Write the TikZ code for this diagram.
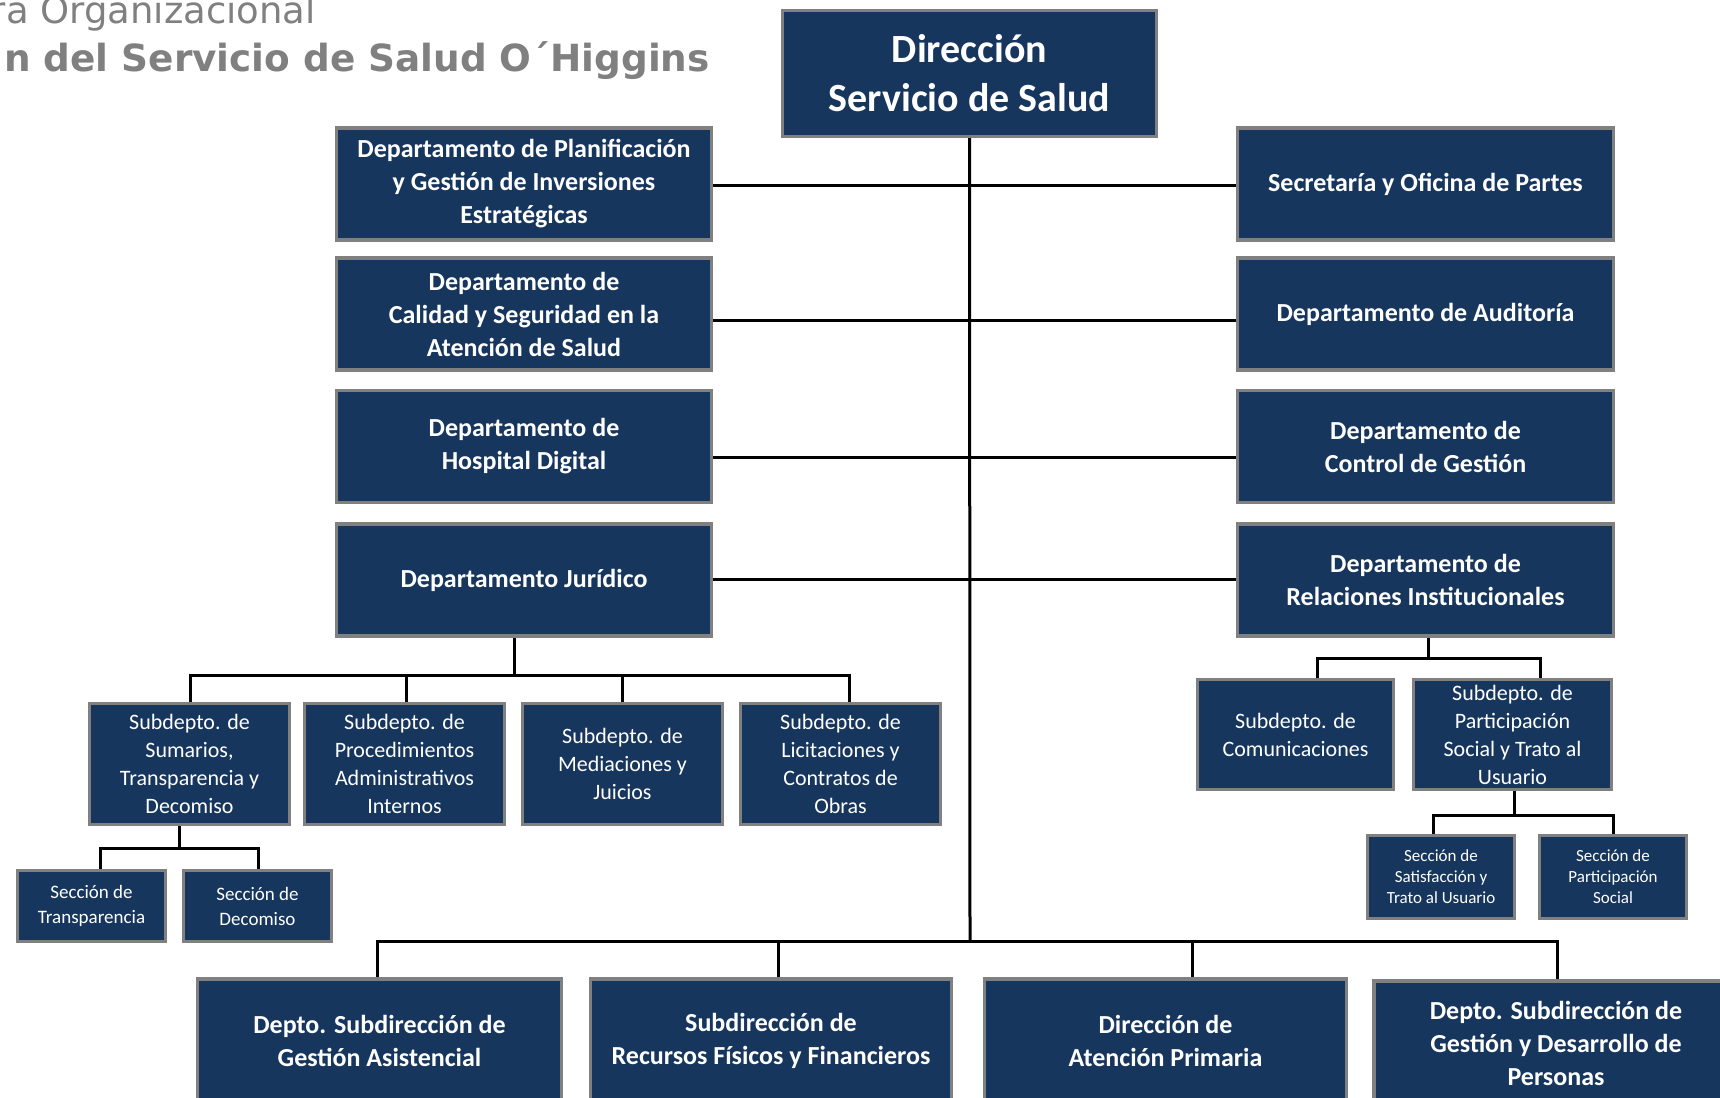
\documentclass[tikz,border=0pt]{standalone}
\usepackage{fontspec}
\setmainfont{Carlito}
\newfontfamily\titlefont{DejaVu Sans}
\definecolor{navy}{RGB}{23,54,93}
\definecolor{bordergray}{RGB}{128,128,128}
\definecolor{titlegray}{RGB}{128,128,128}
\begin{document}
\begin{tikzpicture}[x=1pt,y=-1pt,
  box/.style={draw=bordergray, line width=3.5pt, fill=navy, text=white, align=center, inner sep=0pt},
  dirbox/.style={box, font=\bfseries\fontsize{40}{49}\selectfont},
  dept/.style={box, font=\bfseries\fontsize{26}{33}\selectfont},
  subbox/.style={box, font=\fontsize{22}{28}\selectfont},
  secbox/.style={box, font=\fontsize{19}{25}\selectfont},
  secsmall/.style={box, font=\fontsize{17}{21}\selectfont},
  conn/.style={draw=black, line width=3pt},
  ttl/.style={text=titlegray, inner sep=0pt}
]
\useasboundingbox (0,0) rectangle (1720,1097);
\begin{scope}
\clip (0,0) rectangle (1720,1097);

% title
\node[ttl, anchor=base east, font=\titlefont\fontsize{37}{44}\selectfont] (t1) at (316,24) {ra Organizacional};
\node[ttl, anchor=base east, font=\titlefont\bfseries\fontsize{37.4}{44}\selectfont] (t2) at (710,72) {n del Servicio de Salud O´Higgins};

% coordinates
\coordinate (h1) at (970,185);
\coordinate (h2) at (970,320);
\coordinate (h3) at (970,457);
\coordinate (h4) at (970,579);
\coordinate (tb) at (970,941);
\coordinate (jd) at (514,675);
\coordinate (jb1) at (190,675);
\coordinate (jb2) at (406,675);
\coordinate (jb3) at (622,675);
\coordinate (jb4) at (849,675);
\coordinate (sd) at (179,848);
\coordinate (sb1) at (100,848);
\coordinate (sb2) at (258,848);
\coordinate (rd) at (1428,658);
\coordinate (rb1) at (1317,658);
\coordinate (rb2) at (1540,658);
\coordinate (pd) at (1514,815);
\coordinate (pb1) at (1433,815);
\coordinate (pb2) at (1613,815);
\coordinate (bb1) at (377,941);
\coordinate (bb2) at (778,941);
\coordinate (bb3) at (1192,941);
\coordinate (bb4) at (1557,941);

% connectors (drawn first, below boxes)
\draw[conn] (969.5,120) -- (tb);
\foreach \h in {h1,h2,h3,h4} {\draw[conn] (524,0 |- \h) -- (1425,0 |- \h);}
\draw[conn] (jd |- 600,620) -- (jd);
\draw[conn] (jb1 |- 0,720) -- (jb1) -- (jb4) -- (jb4 |- 0,720);
\draw[conn] (jb2) -- (jb2 |- 0,720);
\draw[conn] (jb3) -- (jb3 |- 0,720);
\draw[conn] (sd |- 0,810) -- (sd);
\draw[conn] (sb1 |- 0,880) -- (sb1) -- (sb2) -- (sb2 |- 0,880);
\draw[conn] (rd |- 0,620) -- (rd);
\draw[conn] (rb1 |- 0,700) -- (rb1) -- (rb2) -- (rb2 |- 0,700);
\draw[conn] (pd |- 0,780) -- (pd);
\draw[conn] (pb1 |- 0,850) -- (pb1) -- (pb2) -- (pb2 |- 0,850);
\draw[conn] (bb1 |- 0,1000) -- (bb1) -- (bb4) -- (bb4 |- 0,1000);
\draw[conn] (bb2) -- (bb2 |- 0,1000);
\draw[conn] (bb3) -- (bb3 |- 0,1000);

% boxes
\node[dirbox, minimum width=374, minimum height=126] (dir) at (969.5,73.5) {Dirección\\Servicio de Salud};

\node[dept, minimum width=375, minimum height=112] (L1) at (524,184) {Departamento de Planificación\\y Gestión de Inversiones\\Estratégicas};
\node[dept, minimum width=375, minimum height=112] (L2) at (524,314) {Departamento de\\Calidad y Seguridad en la\\Atención de Salud};
\node[dept, minimum width=375, minimum height=112] (L3) at (524,446.5) {Departamento de\\Hospital Digital};
\node[dept, minimum width=375, minimum height=112] (L4) at (524,580) {Departamento Jurídico};

\node[dept, minimum width=376, minimum height=112] (R1) at (1425.5,184) {Secretaría y Oficina de Partes};
\node[dept, minimum width=376, minimum height=112] (R2) at (1425.5,314) {Departamento de Auditoría};
\node[dept, minimum width=376, minimum height=112] (R3) at (1425.5,446.5) {Departamento de\\Control de Gestión};
\node[dept, minimum width=376, minimum height=112] (R4) at (1425.5,580) {Departamento de\\Relaciones Institucionales};

\node[subbox, minimum width=200, minimum height=121] (S1) at (189.5,764) {Subdepto. de\\Sumarios,\\Transparencia y\\Decomiso};
\node[subbox, minimum width=200, minimum height=121] (S2) at (404.5,764) {Subdepto. de\\Procedimientos\\Administrativos\\Internos};
\node[subbox, minimum width=200, minimum height=121] (S3) at (622.5,764) {Subdepto. de\\Mediaciones y\\Juicios};
\node[subbox, minimum width=200, minimum height=121] (S4) at (840.5,764) {Subdepto. de\\Licitaciones y\\Contratos de\\Obras};

\node[secbox, minimum width=148, minimum height=71] (T1) at (91.5,906) {Sección de\\Transparencia};
\node[secbox, minimum width=148, minimum height=71] (T2) at (257.5,906) {Sección de\\Decomiso};

\node[subbox, minimum width=196, minimum height=110] (C1) at (1295.5,734.5) {Subdepto. de\\Comunicaciones};
\node[subbox, minimum width=198, minimum height=110] (C2) at (1512.5,734.5) {Subdepto. de\\Participación\\Social y Trato al\\Usuario};

\node[secsmall, minimum width=147, minimum height=83] (P1) at (1441,877) {Sección de\\Satisfacción y\\Trato al Usuario};
\node[secsmall, minimum width=147, minimum height=83] (P2) at (1613,877) {Sección de\\Participación\\Social};

\node[dept, minimum width=364, minimum height=124] (B1) at (379.5,1041) {Depto. Subdirección de\\Gestión Asistencial};
\node[dept, minimum width=361, minimum height=124] (B2) at (771,1041) {Subdirección de\\Recursos Físicos y Financieros};
\node[dept, minimum width=362, minimum height=124] (B3) at (1165.5,1041) {Dirección de\\Atención Primaria};
\node[dept, minimum width=364, minimum height=124] (B4) at (1556,1043) {Depto. Subdirección de\\Gestión y Desarrollo de\\Personas};
\end{scope}
\end{tikzpicture}
\end{document}
